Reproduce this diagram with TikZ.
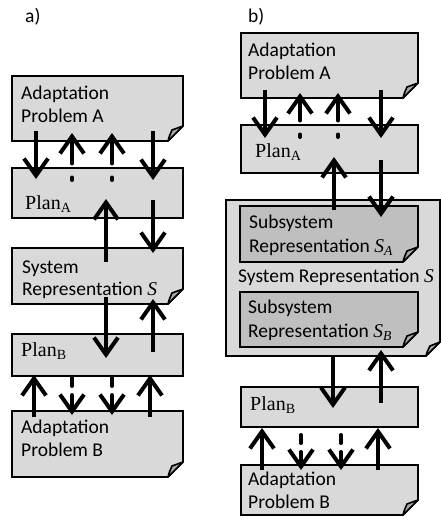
\documentclass[tikz,border=0pt]{standalone}
\usepackage{fontspec}
\setmainfont{Carlito}
\newfontfamily\symfont{Liberation Serif}
\usetikzlibrary{arrows.meta,calc}

\definecolor{boxgray}{RGB}{217,217,217}
\definecolor{subgray}{RGB}{191,191,191}
\definecolor{foldgray}{RGB}{166,166,166}

% serif names: plan with upright index, italic symbol with italic index
\newcommand\planname[1]{{\fontsize{20}{24}\symfont Plan\textsubscript{#1}}}
\newcommand\symname[2]{{\symfont\itshape #1\textsubscript{#2}}}

\tikzset{
  boxline/.style={line width=1.6pt, draw=black, line join=miter},
  holder/.style={inner sep=0pt, outer sep=0pt, draw=none, anchor=north west},
  planbox/.style={boxline, fill=boxgray, inner sep=0pt, outer sep=0pt, anchor=north west},
  txt/.style={inner sep=0pt, anchor=base west, font=\fontsize{19.5}{23}\selectfont},
  arr/.style={line width=4pt, -{Straight Barb[length=17pt,width=24pt]}},
  dashup/.style={arr, line cap=round, dash pattern=on 2.5pt off 14pt on 80pt},
  dashdown/.style={arr, line cap=round, dash pattern=on 8pt off 9pt on 80pt},
}

% sheet with a folded bottom-right corner: node name, fill colour, corner size
\newcommand\foldsheet[3]{%
  \draw[boxline, fill=#2] (#1.north west) -- (#1.north east)
    -- ([yshift=#3]#1.south east) -- ([xshift=-#3]#1.south east)
    -- (#1.south west) -- cycle;
  \draw[boxline, fill=foldgray, line join=round]
    ([yshift=#3]#1.south east) -- ([xshift=-#3]#1.south east)
    .. controls ([xshift=-#3+1pt,yshift=4pt]#1.south east)
    .. ([xshift=-#3+4pt,yshift=#3-4pt]#1.south east) -- cycle;
}

\begin{document}
\begin{tikzpicture}[x=1pt,y=-1pt]
\useasboundingbox (0,0) rectangle (441,525);

% ---------------- a) ----------------
\node[txt] (la) at (25,22) {a)};

\node[holder, minimum width=171pt, minimum height=65pt] (apA) at (12,76) {};
\foldsheet{apA}{boxgray}{15pt}
\node[planbox, minimum width=171pt, minimum height=50pt] (planA) at (12,168) {};
\node[holder, minimum width=171pt, minimum height=56pt] (sysS) at (12,248) {};
\foldsheet{sysS}{boxgray}{15pt}
\node[planbox, minimum width=171pt, minimum height=42pt] (planB) at (12,334) {};
\node[holder, minimum width=171pt, minimum height=66pt] (apB) at (12,411) {};
\foldsheet{apB}{boxgray}{15pt}

\node[txt] (apA1) at (21,99) {Adaptation};
\node[txt] (apA2) at (21,122) {Problem A};
\node[txt] (planAt) at (25,209) {\planname{A}};
\node[txt] (sysS1) at (22,273) {System};
\node[txt] (sysS2) at (22,295) {Representation \symname{S}{}};
\node[txt] (planBt) at (21,356) {\planname{B}};
\node[txt] (apB1) at (21,433) {Adaptation};
\node[txt] (apB2) at (21,456) {Problem B};

\draw[arr] ($(apA.south west)+(24,-10)$) -- ($(planA.north west)+(24,11)$);
\draw[dashup] ($(planA.north west)+(60,12)$) -- ($(apA.south west)+(60,-8)$);
\draw[dashup] ($(planA.north west)+(100,12)$) -- ($(apA.south west)+(100,-8)$);
\draw[arr] ($(apA.south west)+(141,-10)$) -- ($(planA.north west)+(141,12)$);

\draw[arr] ($(sysS.north west)+(94,14)$) -- ($(planA.south west)+(94,-19)$);
\draw[arr] ($(planA.south west)+(141,-18)$) -- ($(sysS.north west)+(141,5)$);

\draw[arr] ($(sysS.south west)+(94,-7)$) -- ($(planB.north west)+(94,24)$);
\draw[arr] ($(planB.north west)+(141,18)$) -- ($(sysS.south west)+(141,-5)$);

\draw[arr] ($(apB.north west)+(22,6)$) -- ($(planB.south west)+(22,-1)$);
\draw[dashdown] ($(planB.south west)+(60,2)$) -- ($(apB.north west)+(60,4)$);
\draw[dashdown] ($(planB.south west)+(100,2)$) -- ($(apB.north west)+(100,4)$);
\draw[arr] ($(apB.north west)+(138,6)$) -- ($(planB.south west)+(138,-1)$);

% ---------------- b) ----------------
\node[txt] (lb) at (248,22) {b)};

\node[holder, minimum width=177pt, minimum height=65pt] (bapA) at (241,33) {};
\foldsheet{bapA}{boxgray}{15pt}
\node[planbox, minimum width=177pt, minimum height=48pt] (bplanA) at (241,125) {};
\node[holder, minimum width=214pt, minimum height=156pt] (bsys) at (226,200) {};
\foldsheet{bsys}{boxgray}{14pt}
\node[holder, minimum width=178pt, minimum height=56pt] (subA) at (240,206) {};
\foldsheet{subA}{subgray}{15pt}
\node[holder, minimum width=178pt, minimum height=55pt] (subB) at (240,292) {};
\foldsheet{subB}{subgray}{15pt}
\node[planbox, minimum width=177pt, minimum height=40pt] (bplanB) at (241,387) {};
\node[holder, minimum width=177pt, minimum height=50pt] (bapB) at (241,465) {};
\foldsheet{bapB}{boxgray}{15pt}

\node[txt] (bapA1) at (248,56) {Adaptation};
\node[txt] (bapA2) at (248,79) {Problem A};
\node[txt] (bplanAt) at (255,157) {\planname{A}};
\node[txt] (subA1) at (249,228) {Subsystem};
\node[txt] (subA2) at (249,252) {Representation \symname{S}{A}};
\node[txt] (bsyst) at (238,282) {System Representation \symname{S}{}};
\node[txt] (subB1) at (248,313) {Subsystem};
\node[txt] (subB2) at (248,337) {Representation \symname{S}{B}};
\node[txt] (bplanBt) at (250,410) {\planname{B}};
\node[txt] (bapB1) at (248,485) {Adaptation};
\node[txt] (bapB2) at (248,508) {Problem B};

\draw[arr] ($(bapA.south west)+(24,-8)$) -- ($(bplanA.north west)+(24,13)$);
\draw[dashup] ($(bplanA.north west)+(59,12)$) -- ($(bapA.south west)+(59,-5)$);
\draw[dashup] ($(bplanA.north west)+(97,12)$) -- ($(bapA.south west)+(97,-5)$);
\draw[arr] ($(bapA.south west)+(140,-8)$) -- ($(bplanA.north west)+(140,13)$);

\draw[arr] ($(subA.north west)+(94,4)$) -- ($(bplanA.south west)+(93,-16)$);
\draw[arr] ($(bplanA.south west)+(140,-13)$) -- ($(subA.north west)+(141,11)$);

\draw[arr] ($(bsys.south west)+(107,-1)$) -- ($(bplanB.north west)+(92,21)$);
\draw[arr] ($(bplanB.north west)+(140,16)$) -- ($(bsys.south west)+(155,-6)$);

\draw[arr] ($(bapB.north west)+(21,5)$) -- ($(bplanB.south west)+(21,1)$);
\draw[dashdown] ($(bplanB.south west)+(60,8)$) -- ($(bapB.north west)+(60,5)$);
\draw[dashdown] ($(bplanB.south west)+(100,8)$) -- ($(bapB.north west)+(100,5)$);
\draw[arr] ($(bapB.north west)+(137,5)$) -- ($(bplanB.south west)+(137,1)$);
\end{tikzpicture}
\end{document}
